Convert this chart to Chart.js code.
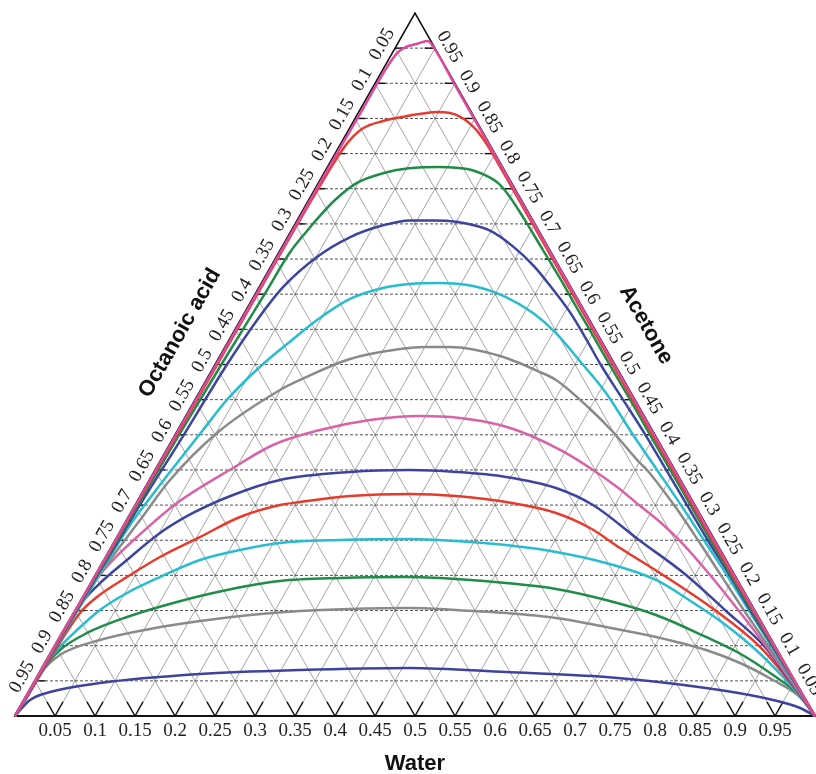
<!DOCTYPE html>
<html>
<head>
<meta charset="utf-8">
<script src="https://cdn.jsdelivr.net/npm/chart.js@4.4.1/dist/chart.umd.min.js"></script>
<style>
  html, body { margin: 0; padding: 0; background: #ffffff; }
  #wrap { width: 816px; height: 774px; position: relative; }
</style>
</head>
<body>
<div id="wrap"><canvas id="chart" width="816" height="774"></canvas></div>
<script>
// Axis ticks shared by the three sides of the ternary diagram
const tickValues = [0.05, 0.1, 0.15, 0.2, 0.25, 0.3, 0.35, 0.4, 0.45, 0.5,
                    0.55, 0.6, 0.65, 0.7, 0.75, 0.8, 0.85, 0.9, 0.95];
const tickLabels = ['0.05', '0.1', '0.15', '0.2', '0.25', '0.3', '0.35', '0.4', '0.45', '0.5',
                    '0.55', '0.6', '0.65', '0.7', '0.75', '0.8', '0.85', '0.9', '0.95'];

const axisTitles = { bottom: 'Water', left: 'Octanoic acid', right: 'Acetone' };

// Binodal curves, each point is [water fraction, acetone fraction]
const curve1 = [[0,0],[0.0005,0.1],[0.001,0.3],[0.0015,0.5],[0.002,0.7],[0.003,0.85],[0.006,0.943],
  [0.012,0.951],[0.024,0.956],[0.036,0.96],[0.0488,0.95],[0.0988,0.9],[0.1988,0.8],[0.2988,0.7],
  [0.3988,0.6],[0.4988,0.5],[0.5988,0.4],[0.6988,0.3],[0.7988,0.2],[0.899,0.1],[1,0]];
const curve2 = [[0,0],[0.001,0.2],[0.0025,0.4],[0.003,0.6],[0.004,0.75],[0.008,0.815],[0.017,0.836],
  [0.036,0.846],[0.062,0.853],[0.081,0.857],[0.1,0.859],[0.124,0.855],[0.154,0.838],[0.1812,0.8151],
  [0.2104,0.7866],[0.2445,0.7525],[0.273,0.724],[0.3014,0.6956],[0.397,0.6],[0.497,0.5],[0.597,0.4],
  [0.697,0.3],[0.797,0.2],[0.8985,0.1],[1,0]];
const curve3 = [[0,0],[0.002,0.2],[0.005,0.4],[0.008,0.5],[0.012,0.6],[0.014,0.66],[0.02,0.69],
  [0.025,0.71],[0.033,0.734],[0.048,0.758],[0.074,0.772],[0.103,0.779],[0.14,0.781],[0.161,0.78],
  [0.185,0.776],[0.225,0.758],[0.2475,0.74],[0.284,0.706],[0.3283,0.663],[0.3705,0.622],
  [0.4085,0.584],[0.4481,0.545],[0.4881,0.505],[0.5418,0.452],[0.5938,0.4],[0.6944,0.3],
  [0.795,0.2],[0.8975,0.1],[1,0]];
const curve4 = [[0,0],[0.0015,0.1],[0.003,0.2],[0.006,0.3],[0.011,0.4],[0.015,0.5],[0.021,0.563],
  [0.03,0.61],[0.051,0.653],[0.078,0.681],[0.111,0.698],[0.141,0.705],[0.17,0.705],[0.2,0.703],
  [0.247,0.691],[0.29,0.667],[0.33,0.639],[0.37,0.606],[0.408,0.573],[0.447,0.535],[0.482,0.5],
  [0.535,0.45],[0.588,0.4],[0.639,0.35],[0.69,0.3],[0.741,0.25],[0.7935,0.2],[0.8445,0.15],
  [0.8965,0.1],[0.9485,0.05],[1,0]];
const curve5 = [[0,0],[0.0022,0.1081],[0.0049,0.2077],[0.0076,0.2674],[0.0146,0.3158],[0.0226,0.3599],
  [0.0316,0.4068],[0.0392,0.4467],[0.0509,0.4808],[0.0641,0.5092],[0.0788,0.5349],[0.0959,0.5633],
  [0.1221,0.5932],[0.1556,0.6088],[0.1865,0.6145],[0.222,0.616],[0.2667,0.6117],[0.3157,0.596],
  [0.3609,0.5733],[0.4038,0.5448],[0.4518,0.5064],[0.509,0.4595],[0.5725,0.4],[0.6275,0.35],
  [0.6825,0.3],[0.7363,0.25],[0.79,0.2],[0.8425,0.15],[0.895,0.1],[0.9475,0.05],[1,0]];
const curve6 = [[0,0],[0.0009,0.1607],[0.0078,0.2219],[0.0169,0.2788],[0.0259,0.3357],[0.0512,0.4026],
  [0.0994,0.4637],[0.1173,0.478],[0.1648,0.5078],[0.2202,0.522],[0.2501,0.5249],[0.2813,0.5249],
  [0.3502,0.5121],[0.4116,0.4893],[0.4373,0.478],[0.4985,0.4381],[0.5455,0.404],[0.5993,0.3613],
  [0.615,0.35],[0.6738,0.3],[0.7288,0.25],[0.7825,0.2],[0.8363,0.15],[0.8913,0.1],[0.9463,0.05],[1,0]];
const curve7 = [[0,0],[0.0008,0.111],[0.0059,0.2006],[0.0126,0.2248],[0.0252,0.2546],[0.051,0.303],
  [0.0961,0.3528],[0.1297,0.3855],[0.1778,0.4068],[0.2332,0.421],[0.2929,0.4267],[0.3443,0.4239],
  [0.3993,0.4139],[0.4427,0.3997],[0.4953,0.377],[0.5476,0.3499],[0.5897,0.3257],[0.63,0.3001],
  [0.6683,0.276],[0.7048,0.2504],[0.7685,0.2006],[0.8303,0.1494],[0.8889,0.0996],[0.9452,0.0498],[1,0]];
const curve8 = [[0,0],[0.0018,0.0839],[0.0023,0.1579],[0.0101,0.1849],[0.029,0.2219],[0.0511,0.2603],
  [0.0781,0.2888],[0.1153,0.3144],[0.1634,0.3357],[0.2452,0.3471],[0.3188,0.3499],[0.3777,0.3471],
  [0.4437,0.34],[0.5141,0.3243],[0.5724,0.3001],[0.6548,0.2504],[0.7385,0.2006],[0.8141,0.1494],
  [0.8865,0.0996],[0.944,0.0498],[1,0]];
const curve9 = [[0,0],[0.0017,0.0341],[0.003,0.0797],[0.008,0.1465],[0.0179,0.1693],[0.0411,0.1977],
  [0.0681,0.2262],[0.1039,0.2546],[0.1397,0.2831],[0.1812,0.3001],[0.2041,0.3044],[0.2623,0.3129],
  [0.3358,0.3158],[0.3948,0.3129],[0.4615,0.3044],[0.5318,0.2888],[0.5851,0.2674],[0.6368,0.239],
  [0.7097,0.2006],[0.8016,0.1494],[0.8802,0.0996],[0.9427,0.0498],[1,0]];
const curve10 = [[0,0],[0.002,0.03],[0.001,0.0654],[0.006,0.095],[0.0164,0.1223],[0.0308,0.1508],
  [0.0525,0.175],[0.0824,0.1977],[0.1203,0.2219],[0.1632,0.2361],[0.2082,0.2461],[0.2811,0.2504],
  [0.3679,0.2518],[0.4268,0.2489],[0.4921,0.2432],[0.5596,0.2333],[0.6299,0.2176],[0.7045,0.1935],
  [0.76,0.165],[0.8189,0.1323],[0.8793,0.0939],[0.9323,0.0555],[0.9736,0.0228],[1,0]];
const curve11 = [[0,0],[0.0013,0.0299],[0.0015,0.0654],[0.0093,0.0939],[0.031,0.1181],[0.0696,0.1408],
  [0.1214,0.1622],[0.1754,0.1792],[0.2352,0.192],[0.3081,0.1963],[0.3899,0.1977],[0.4538,0.1949],
  [0.5192,0.1892],[0.5859,0.1807],[0.6562,0.165],[0.7294,0.1437],[0.8075,0.1124],[0.8602,0.0896],
  [0.9184,0.0583],[0.965,0.0299],[1,0]];
const curve12 = [[0,0],[0.0013,0.0299],[0.0014,0.0597],[0.0128,0.0868],[0.0522,0.1081],[0.1069,0.1238],
  [0.1637,0.1351],[0.2219,0.1437],[0.2815,0.1494],[0.3426,0.1522],[0.4169,0.1536],[0.4758,0.1508],
  [0.5405,0.1465],[0.6065,0.1394],[0.6754,0.1266],[0.7451,0.1124],[0.8168,0.0939],[0.8686,0.0754],
  [0.9219,0.0512],[0.9677,0.027],[1,0]];
const curve13 = [[0,0],[0.0074,0.0228],[0.0267,0.0341],[0.0828,0.0469],[0.2014,0.0597],
  [0.3235,0.0654],[0.4596,0.0683],[0.5824,0.0626],[0.711,0.0555],[0.8438,0.0398],[0.9361,0.0228],
  [0.9756,0.0114],[1,0]];

const curves = [curve1, curve2, curve3, curve4, curve5, curve6, curve7,
                curve8, curve9, curve10, curve11, curve12, curve13];
const curveColors = ['#dc4a9e', '#e83a2c', '#1f8c48', '#3d449e', '#27bccf', '#8a8a8a', '#d862a8',
                     '#3d449e', '#e83a2c', '#27bccf', '#1f8c48', '#8a8a8a', '#3d449e'];

// Ternary composition -> plane position (x along the base, y = acetone height)
const toPlane = ([w, a]) => ({ x: w + a / 2, y: a });

const datasets = curves.map((c, i) => ({
  data: c.map(toPlane),
  showLine: true,
  borderColor: curveColors[i],
  borderWidth: 2.5,
  pointRadius: 0,
  fill: false,
  cubicInterpolationMode: 'monotone',
  clip: false
}));

const ternaryFrame = {
  id: 'ternaryFrame',
  beforeDatasetsDraw(chart) {
    const { ctx, scales: { x, y } } = chart;
    const P = (w, a) => [x.getPixelForValue(w + a / 2), y.getPixelForValue(a)];
    const seg = (p, q) => { ctx.beginPath(); ctx.moveTo(p[0], p[1]); ctx.lineTo(q[0], q[1]); ctx.stroke(); };
    ctx.save();
    // diagonal grid lines (constant water, constant octanoic acid)
    ctx.strokeStyle = 'rgba(110,110,110,0.7)';
    ctx.lineWidth = 0.9;
    for (const t of tickValues) {
      seg(P(t, 0), P(t, 1 - t));
      seg(P(1 - t, 0), P(0, 1 - t));
    }
    // horizontal dotted lines (constant acetone)
    ctx.strokeStyle = 'rgba(40,40,40,0.8)';
    ctx.lineWidth = 1;
    ctx.setLineDash([3, 2]);
    for (const t of tickValues) seg(P(0, t), P(1 - t, t));
    ctx.setLineDash([]);
    // tick marks
    ctx.strokeStyle = '#111';
    ctx.lineWidth = 1.4;
    for (const t of tickValues) {
      seg(P(t, 0), P(t, 0.02));
      seg(P(t, 0), P(t - 0.02, 0.02));
      seg(P(0, t), P(0.013, t));
      seg(P(1 - t, t), P(1 - t - 0.013, t));
    }
    // triangle outline
    ctx.lineWidth = 1.6;
    ctx.beginPath();
    const A = P(0, 0), B = P(1, 0), C = P(0, 1);
    ctx.moveTo(A[0], A[1]); ctx.lineTo(B[0], B[1]); ctx.lineTo(C[0], C[1]); ctx.closePath();
    ctx.stroke();
    ctx.lineWidth = 2.2;
    seg(A, B);
    ctx.restore();
  },
  afterDraw(chart) {
    const { ctx, scales: { x, y } } = chart;
    const P = (w, a) => [x.getPixelForValue(w + a / 2), y.getPixelForValue(a)];
    const ang = Math.atan2(y.getPixelForValue(0) - y.getPixelForValue(1), x.getPixelForValue(0.5) - x.getPixelForValue(0));
    ctx.save();
    ctx.fillStyle = '#222';
    ctx.font = '19px "Liberation Serif", "Times New Roman", serif';
    ctx.textAlign = 'center';
    ctx.textBaseline = 'middle';
    const s = Math.sin(ang), c = Math.cos(ang);
    tickValues.forEach((t, i) => {
      // bottom: water
      const pb = P(t, 0);
      ctx.fillText(tickLabels[i], pb[0], pb[1] + 15);
      // left: octanoic acid
      const pl = P(0, 1 - t);
      const lx = pl[0] - 13 * s - 3 * c, ly = pl[1] - 13 * c + 3 * s;
      ctx.save(); ctx.translate(lx, ly); ctx.rotate(-ang); ctx.fillText(tickLabels[i], 0, 0); ctx.restore();
      // right: acetone
      const pr = P(1 - t, t);
      const rx = pr[0] + 13 * s + 6 * c, ry = pr[1] - 13 * c + 6 * s;
      ctx.save(); ctx.translate(rx, ry); ctx.rotate(ang); ctx.fillText(tickLabels[i], 0, 0); ctx.restore();
    });
    ctx.fillStyle = '#111';
    ctx.font = 'bold 22px "Liberation Sans", Arial, sans-serif';
    ctx.fillText(axisTitles.bottom, x.getPixelForValue(0.5), y.getPixelForValue(0) + 48);
    ctx.save(); ctx.translate(180, 333); ctx.rotate(-ang); ctx.fillText(axisTitles.left, 0, 0); ctx.restore();
    ctx.save(); ctx.translate(646, 325); ctx.rotate(ang); ctx.fillText(axisTitles.right, 0, 0); ctx.restore();
    ctx.restore();
  }
};

new Chart(document.getElementById('chart'), {
  type: 'scatter',
  data: { datasets },
  options: {
    responsive: false,
    devicePixelRatio: 1,
    animation: false,
    layout: { padding: { left: 15, right: 1, top: 13, bottom: 58 } },
    scales: {
      x: { type: 'linear', min: 0, max: 1, display: false },
      y: { type: 'linear', min: 0, max: 1, display: false }
    },
    plugins: { legend: { display: false }, tooltip: { enabled: false } }
  },
  plugins: [ternaryFrame]
});
</script>
</body>
</html>
